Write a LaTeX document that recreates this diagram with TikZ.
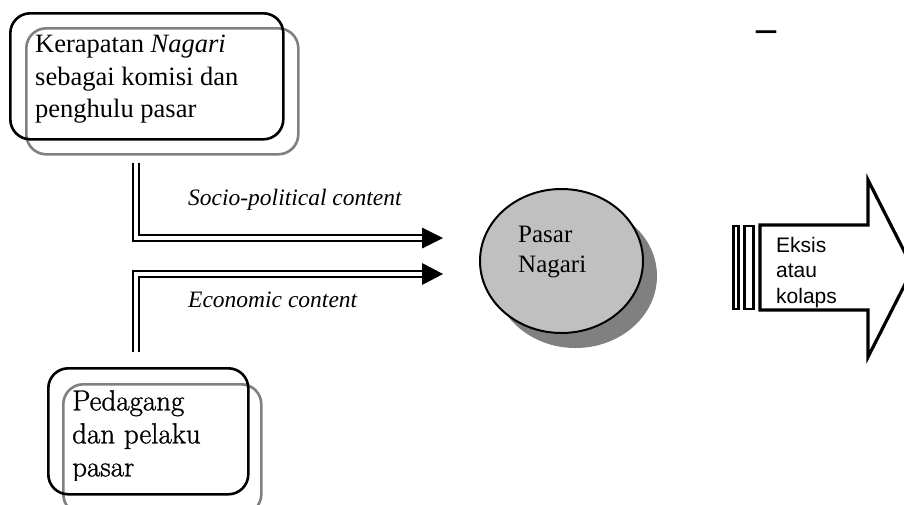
\documentclass[tikz,border=0pt]{standalone}
\usepackage{fontspec}
\setmainfont{Liberation Serif}
\newfontfamily\lmfont[FakeBold=1]{Latin Modern Roman}
\newfontfamily\arialfont{Liberation Sans}
\usetikzlibrary{shapes.geometric,shadows}
\definecolor{boxgray}{HTML}{808080}
\definecolor{ellfill}{HTML}{C0C0C0}
\definecolor{shadowgray}{HTML}{808080}
\tikzset{
  frontbox/.style={draw=black, line width=2.6pt, rounded corners=20pt, anchor=north west, inner sep=0pt},
  backbox/.style={draw=boxgray, line width=2.6pt, rounded corners=20pt, anchor=north west, inner sep=0pt},
  dline/.style={draw=black, double=white, line width=2pt, double distance=3.6pt, line join=miter},
  tiphead/.style={fill=black},
  boxtext/.style={anchor=north west, inner sep=0pt, align=left},
  flowtext/.style={anchor=base west, inner sep=0pt, font=\fontsize{23.5}{28}\selectfont\itshape},
  bigarrow/.style={draw=black, line width=3.2pt, line join=miter},
  barbox/.style={draw=black, line width=2.6pt}
}
\begin{document}
\begin{tikzpicture}[x=1pt,y=-1pt]
\useasboundingbox (0,0) rectangle (904,504);
\clip (0,0) rectangle (904,504);
\fill[white] (0,0) rectangle (904,504);

% top box
\node[backbox, minimum width=272pt, minimum height=126pt] (topback) at (25,27) {};
\node[frontbox, minimum width=273pt, minimum height=126pt] (topfront) at (9,12) {};
\node[boxtext, font=\fontsize{26.5}{32.5}\selectfont] (toptext) at (35,35)
  {Kerapatan \textit{Nagari}\\sebagai komisi dan\\penghulu pasar};

% bottom box
\node[backbox, minimum width=198pt, minimum height=130pt] (botback) at (62,383) {};
\node[frontbox, minimum width=200pt, minimum height=126pt] (botfront) at (47,367) {};
\begin{scope}
  \clip (47,367) rectangle (247,480);
  \node[boxtext, font=\lmfont\fontsize{29}{33}\selectfont] (bottext) at (72,390)
    {Pedagang\\dan pelaku\\pasar};
\end{scope}

% connectors
\coordinate (topstart) at (136,163);
\coordinate (topcorner) at (136,238);
\coordinate (topend) at (422,238);
\coordinate (botstart) at (136,352);
\coordinate (botcorner) at (136,274);
\coordinate (botend) at (422,274);
\draw[dline] (topstart) -- (topcorner) -- (topend);
\draw[dline] (botstart) -- (botcorner) -- (botend);
\fill[tiphead] (422,227.5) -- (443,238) -- (422,248.5) -- cycle;
\fill[tiphead] (422,263) -- (443,274) -- (422,285) -- cycle;
\node[flowtext] (socio) at (188,205) {Socio-political content};
\node[flowtext] (econ) at (188,307) {Economic content};

% Pasar Nagari ellipse
\node[ellipse, draw=black, line width=2pt, fill=ellfill, minimum width=163pt, minimum height=144pt, inner sep=0pt,
  drop shadow={shadow xshift=14pt, shadow yshift=-15pt, fill=shadowgray, opacity=1}] (pasar) at (561.5,261) {};
\node[boxtext, font=\fontsize{25}{30}\selectfont] (pasartext) at (518,225.5) {Pasar\\Nagari};

% right arrow
\draw[barbox] (733.5,226) rectangle (738.5,309);
\draw[barbox] (744.5,226) rectangle (753.5,309);
\draw[bigarrow] (760,225) -- (868,225) -- (868,180) -- (913,268.5) -- (868,357) -- (868,310) -- (760,310) -- cycle;
\node[boxtext, font=\arialfont\fontsize{21}{25.5}\selectfont] (eksis) at (776,237) {Eksis\\atau\\kolaps};

% dash
\node[anchor=base, inner sep=0pt, font=\fontsize{40}{40}\selectfont\bfseries] (dash) at (766,41) {–};
\end{tikzpicture}
\end{document}
